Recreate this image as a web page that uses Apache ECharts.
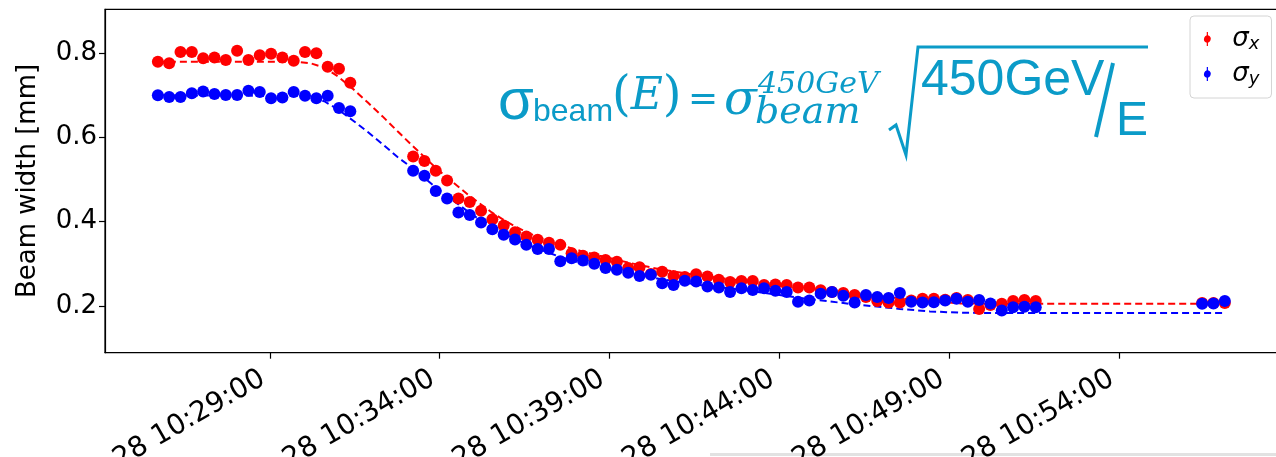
<!DOCTYPE html>
<html><head><meta charset="utf-8">
<script src="https://cdn.jsdelivr.net/npm/echarts@6/dist/echarts.min.js"></script>
<style>html,body{margin:0;padding:0;background:#fff}#c{width:1276px;height:457px}</style>
</head><body><div id="c"></div>
<script>
// ---- data ----
const datePrefix = '2021-06-28';
const measTimes = [
'10:25:42','10:26:02','10:26:22','10:26:42','10:27:02','10:27:22','10:27:42','10:28:02','10:28:22','10:28:42','10:29:02','10:29:22','10:29:42','10:30:02','10:30:22','10:30:42','10:31:02','10:31:22',
'10:33:13','10:33:33','10:33:53','10:34:13','10:34:33','10:34:53','10:35:13','10:35:33','10:35:53','10:36:13','10:36:33','10:36:53','10:37:13','10:37:33','10:37:53','10:38:13','10:38:33','10:38:53','10:39:13','10:39:33','10:39:53','10:40:13','10:40:33','10:40:53','10:41:13','10:41:33','10:41:53','10:42:13','10:42:33','10:42:53','10:43:13','10:43:33','10:43:53','10:44:13','10:44:33','10:44:53','10:45:13','10:45:33','10:45:53','10:46:13','10:46:33','10:46:53','10:47:13','10:47:33','10:47:53','10:48:13','10:48:33','10:48:53','10:49:13','10:49:33','10:49:53','10:50:13','10:50:33','10:50:53','10:51:13','10:51:33',
'10:56:27','10:56:47','10:57:07'];
const sigmaX = [
0.780,0.776,0.803,0.803,0.788,0.790,0.784,0.806,0.784,0.795,0.799,0.790,0.782,0.803,0.800,0.768,0.763,0.730,
0.555,0.544,0.521,0.498,0.455,0.447,0.426,0.406,0.391,0.375,0.365,0.357,0.350,0.345,0.325,0.319,0.315,0.309,0.305,0.290,
0.292,0.276,0.281,0.271,0.269,0.275,0.270,0.262,0.257,0.259,0.259,0.250,0.251,0.250,0.244,0.244,0.237,0.233,0.231,0.226,
0.221,0.212,0.208,0.208,0.213,0.217,0.217,0.215,0.219,0.214,0.193,0.202,0.205,0.212,0.214,0.212,
0.207,0.207,0.207];
const sigmaY = [
0.700,0.696,0.696,0.705,0.709,0.703,0.701,0.701,0.711,0.708,0.693,0.695,0.708,0.699,0.693,0.699,0.670,0.662,
0.521,0.509,0.473,0.455,0.422,0.416,0.398,0.382,0.369,0.358,0.345,0.335,0.335,0.306,0.313,0.308,0.300,0.290,0.286,0.279,
0.271,0.274,0.254,0.250,0.260,0.258,0.246,0.244,0.233,0.242,0.238,0.242,0.236,0.233,0.210,0.213,0.229,0.233,0.224,0.208,
0.226,0.221,0.219,0.231,0.210,0.208,0.209,0.213,0.217,0.210,0.214,0.206,0.189,0.197,0.198,0.197,
0.205,0.206,0.212];
const modelTimes = ['10:25:42','10:29:46','10:30:12','10:30:36','10:31:00','10:31:26','10:31:53','10:32:19','10:32:46','10:33:12','10:33:34','10:33:53','10:34:13','10:34:34','10:34:53','10:35:13','10:35:32','10:35:53','10:36:13','10:36:32','10:36:53','10:37:13','10:37:32','10:38:08','10:38:43','10:39:36','10:40:29','10:41:40','10:43:08','10:44:36','10:46:05','10:47:33','10:48:26','10:49:19','10:50:30','10:57:07'];
const modelX = [0.780,0.780,0.776,0.766,0.745,0.716,0.683,0.650,0.614,0.580,0.552,0.528,0.505,0.482,0.461,0.441,0.422,0.404,0.389,0.376,0.364,0.354,0.345,0.331,0.319,0.302,0.287,0.272,0.258,0.2455,0.2315,0.218,0.211,0.206,0.205,0.205];
const modelY = [0.700,0.699,0.695,0.686,0.667,0.641,0.613,0.584,0.553,0.527,0.503,0.481,0.461,0.440,0.421,0.403,0.387,0.372,0.359,0.347,0.336,0.326,0.317,0.302,0.290,0.277,0.264,0.250,0.236,0.219,0.205,0.193,0.187,0.184,0.183,0.183];
const xTickTimes = ['10:29:00','10:34:00','10:39:00','10:44:00','10:49:00','10:54:00'];
const yTicks = [0.2, 0.4, 0.6, 0.8];

// ---- helpers ----
function sec(t){const p=t.split(':').map(Number);return p[0]*3600+p[1]*60+p[2];}
function pad(n){return (n<10?'0':'')+n;}
function fmt(s){s=Math.round(s);return datePrefix+' '+pad(Math.floor(s/3600))+':'+pad(Math.floor(s%3600/60))+':'+pad(s%60);}
const pts = (times, vals) => times.map((t,i)=>[sec(t), vals[i]]);

const C = '#0b9bc8';
const errIcon = 'path://M4.4,0H5.6V3.2A4,4 0 0 1 5.6,10.8V14H4.4V10.8A4,4 0 0 1 4.4,3.2Z';

const chart = echarts.init(document.getElementById('c'), null, {renderer:'canvas'});
chart.setOption({
  animation:false,
  backgroundColor:'#fff',
  textStyle:{fontFamily:'DejaVu Sans'},
  grid:{left:105, right:-2, top:9.3, bottom:104.3, show:true, borderColor:'#000', borderWidth:1.2,
    containLabel:false, outerBoundsMode:'none'},
  xAxis:{type:'value', min:37448.6, max:39521,
    axisLine:{show:true, lineStyle:{color:'#000', width:1.2}},
    axisTick:{show:true, length:6, lineStyle:{color:'#000', width:1.2}, customValues: xTickTimes.map(sec)},
    axisLabel:{show:true, rotate:30, fontSize:28, color:'#000', margin:20, padding:[0,8,0,0], fontFamily:'DejaVu Sans',
      hideOverlap:false, customValues: xTickTimes.map(sec), formatter: v => fmt(v)},
    splitLine:{show:false}},
  yAxis:{type:'value', min:0.089, max:0.9043,
    name:'Beam width [mm]', nameLocation:'middle', nameGap:64, nameRotate:90,
    nameTextStyle:{fontSize:26, color:'#000', fontFamily:'DejaVu Sans'},
    axisLine:{show:true, lineStyle:{color:'#000', width:1.2}},
    axisTick:{show:true, length:6, lineStyle:{color:'#000', width:1.2}, customValues: yTicks},
    axisLabel:{show:true, fontSize:26, color:'#000', margin:8, fontFamily:'DejaVu Sans',
      customValues: yTicks, formatter: v => v.toFixed(1)},
    splitLine:{show:false}},
  legend:{left:1190, top:16, orient:'vertical', itemGap:8, padding:[10,12,10,14],
    borderColor:'#d4d4d4', borderWidth:1, borderRadius:4, backgroundColor:'#fff',
    itemWidth:10, itemHeight:14,
    data:[{name:'σx', icon:errIcon},{name:'σy', icon:errIcon}],
    formatter: n => '{s|σ}{b|'+n.slice(1)+'}',
    textStyle:{rich:{
      s:{fontSize:26, lineHeight:28, fontStyle:'italic', fontFamily:'DejaVu Sans', color:'#000', padding:[0,0,0,15]},
      b:{fontSize:18, lineHeight:28, fontStyle:'italic', fontFamily:'DejaVu Sans', color:'#000', verticalAlign:'bottom'}}}},
  series:[
    {name:'modelX', type:'line', data:pts(modelTimes, modelX), showSymbol:false, symbol:'none', z:1,
      lineStyle:{color:'#ff0000', width:2, type:[7,4]}, smooth:false, silent:true},
    {name:'modelY', type:'line', data:pts(modelTimes, modelY), showSymbol:false, symbol:'none', z:1,
      lineStyle:{color:'#0000ff', width:2, type:[7,4]}, smooth:false, silent:true},
    {name:'σx', type:'scatter', data:pts(measTimes, sigmaX), symbol:'circle', symbolSize:12, z:3,
      itemStyle:{color:'#ff0000', opacity:1}},
    {name:'σy', type:'scatter', data:pts(measTimes, sigmaY), symbol:'circle', symbolSize:12, z:4,
      itemStyle:{color:'#0000ff', opacity:1}}
  ],
  graphic:[
    {type:'text', left:498, top:74, style:{text:'σ', fontSize:58, fontFamily:'Liberation Sans', fill:C}},
    {type:'text', left:533, top:96, style:{text:'beam', fontSize:32, fontFamily:'Liberation Sans', fill:C}},
    {type:'text', left:612, top:74, style:{text:'{p|(}{e|E}{p|)}', fill:C, rich:{
      p:{fontSize:48, fontFamily:'DejaVu Serif', fill:C}, e:{fontSize:44, fontStyle:'italic', fontFamily:'DejaVu Serif', fill:C}}}},
    {type:'text', left:688, top:83, style:{text:'=', fontSize:36, fontFamily:'DejaVu Sans', fill:C}},
    {type:'text', left:724, top:78, style:{text:'σ', fontSize:48, fontStyle:'italic', fontFamily:'DejaVu Serif', fill:C}},
    {type:'text', left:758, top:70, style:{text:'450GeV', fontSize:30, fontStyle:'italic', fontFamily:'DejaVu Serif', fill:C}},
    {type:'text', left:755, top:94, style:{text:'beam', fontSize:38, fontStyle:'italic', fontFamily:'DejaVu Serif', fill:C}},
    {type:'polyline', shape:{points:[[889,130],[896,125],[906,155],[918,47],[1148,47]]}, style:{stroke:C, lineWidth:3, fill:null}},
    {type:'text', left:921, top:56, style:{text:'450GeV', fontSize:50, fontFamily:'Liberation Sans', fill:C}},
    {type:'line', shape:{x1:1096, y1:137, x2:1113, y2:63}, style:{stroke:C, lineWidth:4}},
    {type:'text', left:1116, top:98, style:{text:'E', fontSize:48, fontFamily:'Liberation Sans', fill:C}},
    {type:'rect', shape:{x:710, y:453, width:566, height:3}, style:{fill:'#e2e2e2'}, silent:true}
  ]
});
</script></body></html>
